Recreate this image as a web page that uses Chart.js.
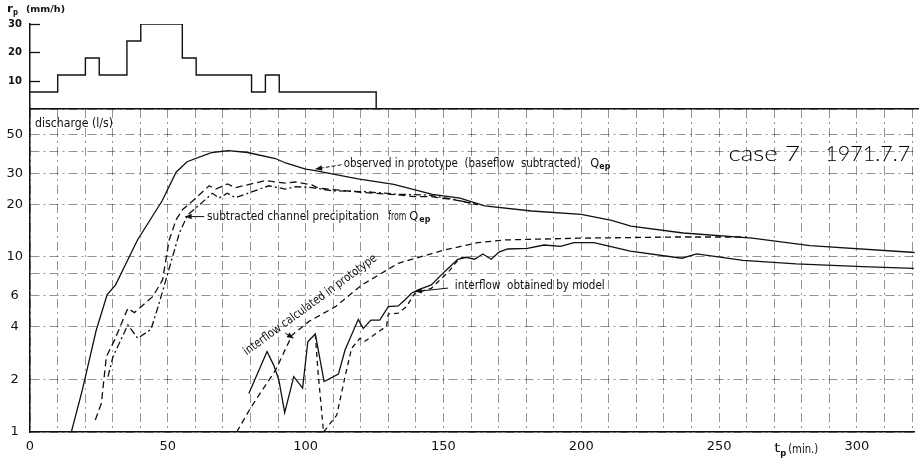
<!DOCTYPE html>
<html>
<head>
<meta charset="utf-8">
<script src="https://cdn.jsdelivr.net/npm/chart.js@4.4.1/dist/chart.umd.min.js"></script>
<style>
    html, body { margin: 0; padding: 0; background: #fff; }
    #wrap { position: relative; width: 919px; height: 461px; }
    #wrap canvas { position: absolute; left: 0; top: 0; }
</style>
</head>
<body>
<div id="wrap">
    <canvas id="flow" width="919" height="461"></canvas>
    <canvas id="rain" width="919" height="461"></canvas>
</div>
<script>
    // ---- axes ----
    var T_MAX = 321;
    var timeGrid = [0, 10, 20, 30, 40, 50, 60, 70, 80, 90, 100, 110, 120, 130, 140, 150, 160,
        170, 180, 190, 200, 210, 220, 230, 240, 250, 260, 270, 280, 290, 300, 310, 320];
    var timeLabels = [0, 50, 100, 150, 200, 250, 300];
    var qGrid = [1, 2, 4, 6, 8, 10, 20, 30, 40, 50, 70];
    var qLabels = [1, 2, 4, 6, 10, 20, 30, 50];
    var rainTicks = [10, 20, 30];

    // ---- rainfall r_p (mm/h), value holds until the next time ----
    var rainTime = [0, 10, 20, 25, 35, 40, 55, 60, 80, 85, 90, 125];
    var rainRate = [6, 12, 18, 12, 24, 30, 18, 12, 6, 12, 6, 0];

    // ---- discharge (l/s) ----
    // observed in prototype, baseflow subtracted (Qep)
    var tObs = [15, 19, 24, 28, 31, 39, 48, 53, 57, 66, 72, 79, 89, 93, 100, 103, 119, 132, 146,
        156, 165, 182, 200, 211, 218, 237, 262, 283, 321];
    var qObs = [1.0, 1.74, 3.8, 6.1, 6.9, 12.5, 21, 30.5, 35, 39.5, 40.5, 39.5, 36.5, 34.3, 31.7,
        31.2, 27.9, 26, 22.8, 21.7, 19.6, 18.3, 17.5, 16.2, 15.0, 13.7, 12.8, 11.6, 10.6];

    // dashed curve above the channel-precipitation curve
    var tDash = [23.7, 25.9, 27.7, 30.7, 35.5, 37.9, 44.5, 48.1, 50.5, 53, 55.3, 60.2, 65, 67.4,
        71.6, 74.6, 85.4, 92.7, 96.3, 102.3, 104.7, 121.5, 133.6, 139.6, 145.6, 154, 162.5];
    var qDash = [1.17, 1.46, 2.69, 3.36, 5.09, 4.81, 5.93, 7.39, 12.5, 16.3, 18.6, 21.7, 25.5, 24.4,
        26.1, 24.9, 27.3, 26.4, 26.8, 25.8, 24.7, 23.3, 22.6, 22.1, 22.1, 21.2, 19.9];

    // channel precipitation subtracted from Qep
    var tChan = [28.3, 30.1, 35.5, 39.1, 43.9, 46.3, 49.3, 51.7, 54.2, 57.2, 61.4, 66.2, 68.6, 71.6,
        74.6, 86.6, 92.7, 96.3, 102.3, 109.5, 121.5, 133.6, 144.4, 154, 162.5];
    var qChan = [2.07, 2.69, 4.09, 3.43, 3.86, 5.09, 7.39, 10.0, 13.7, 17.4, 19.8, 23.1, 21.7, 23.1,
        21.8, 25.5, 24.4, 25.2, 24.9, 23.9, 23.6, 22.8, 22.6, 21.3, 19.9];

    // interflow calculated in prototype
    var tCalc = [75, 80, 89.1, 95.1, 101.1, 110.8, 120.4, 133.6, 150.5, 162.5, 172.2, 198.6, 234.7, 260];
    var qCalc = [1, 1.37, 2.26, 3.58, 4.27, 5.2, 6.92, 9.2, 10.97, 12.07, 12.5, 12.8, 13.0, 13.0];

    // interflow obtained by model
    var tModel = [79.4, 86, 88.4, 90.3, 92.4, 95.7, 98.9, 100.8, 103.5, 106.7, 111.9, 114.3, 119.1,
        120.9, 123.7, 126.9, 130, 133.6, 136, 138.4, 140.8, 145.6, 150.4, 155.2, 158.2, 161.3, 164.3,
        167.3, 170.3, 173.3, 180.5, 186.5, 192.5, 197.4, 204.6, 217.8, 236.5, 241.9, 258.7, 278, 302, 320.7];
    var qModel = [1.66, 2.88, 2.41, 1.98, 1.29, 2.07, 1.78, 3.28, 3.63, 1.94, 2.14, 2.94, 4.4,
        3.91, 4.36, 4.36, 5.2, 5.25, 5.68, 6.2, 6.48, 6.92, 8.24, 9.7, 9.96, 9.7, 10.4,
        9.7, 10.7, 11.1, 11.2, 11.7, 11.5, 12.07, 12.07, 10.8, 9.83, 10.4, 9.55, 9.12, 8.8, 8.6];

    // second (dashed) model interflow
    var tModel2 = [103.5, 104.5, 106.5, 111.3, 114.3, 116.7, 119.7, 121.3, 129.4, 130, 133.6, 136.6,
        139.6, 145.6, 152.2, 155.8, 158.2];
    var qModel2 = [3.63, 2.2, 1.0, 1.25, 2.07, 3.01, 3.43, 3.28, 4.03, 4.72, 4.77, 5.2,
        6.2, 6.62, 8.35, 9.83, 9.96];

    var FONT = '"DejaVu Sans", sans-serif';
    var INK = '#111';
    var GRID = 'rgba(0,0,0,0.42)';

    function pts(ts, qs) {
        return ts.map(function (t, i) { return { x: t, y: qs[i] }; });
    }

    function curve(label, ts, qs, dash) {
        return {
            label: label,
            data: pts(ts, qs),
            borderColor: INK,
            borderWidth: 1.3,
            borderDash: dash,
            pointRadius: 0,
            tension: 0,
            fill: false
        };
    }

    // text squeezed/stretched to a given width
    function note(ctx, str, x, y, w, font, angle) {
        ctx.save();
        ctx.font = font;
        ctx.textAlign = 'left';
        ctx.textBaseline = 'middle';
        ctx.translate(x, y);
        if (angle) ctx.rotate(angle);
        var m = ctx.measureText(str).width;
        ctx.scale(w / m, 1);
        ctx.fillText(str, 0, 0);
        ctx.restore();
    }

    function arrow(ctx, a, b, dash, head) {
        ctx.save();
        ctx.lineWidth = 1;
        ctx.setLineDash(dash || []);
        ctx.beginPath();
        ctx.moveTo(a[0], a[1]);
        ctx.lineTo(b[0], b[1]);
        ctx.stroke();
        ctx.setLineDash([]);
        if (head !== false) {
            var ang = Math.atan2(b[1] - a[1], b[0] - a[0]);
            ctx.beginPath();
            ctx.moveTo(b[0], b[1]);
            ctx.lineTo(b[0] - 7 * Math.cos(ang - 0.4), b[1] - 7 * Math.sin(ang - 0.4));
            ctx.lineTo(b[0] - 7 * Math.cos(ang + 0.4), b[1] - 7 * Math.sin(ang + 0.4));
            ctx.closePath();
            ctx.fill();
        }
        ctx.restore();
    }

    // labels and pointers on the discharge plot
    var flowNotes = {
        id: 'flowNotes',
        afterDraw: function (chart) {
            var ctx = chart.ctx;
            var x = chart.scales.x, y = chart.scales.y;
            function p(t, q) { return [x.getPixelForValue(t), y.getPixelForValue(q)]; }
            var f12 = '12px ' + FONT;
            var sub = 'bold 8px ' + FONT;
            ctx.save();
            ctx.fillStyle = INK;
            ctx.strokeStyle = INK;

            var a = p(1.8, 57.5);
            note(ctx, 'discharge (l/s)', a[0], a[1], 78, f12);

            a = p(113.8, 34);
            note(ctx, 'observed in prototype  (baseflow  subtracted)', a[0], a[1], 237, f12);
            a = p(203.3, 34);
            note(ctx, 'Q', a[0], a[1], 9, f12);
            note(ctx, 'ep', a[0] + 9, a[1] + 3, 11, sub);
            arrow(ctx, p(113, 33.6), p(103.6, 31.8), [4, 2]);

            a = p(64.2, 17.0);
            note(ctx, 'subtracted channel precipitation', a[0], a[1], 172, f12);
            a = p(130, 17.0);
            note(ctx, 'from', a[0], a[1], 18, f12);
            note(ctx, 'Q', a[0] + 21, a[1], 9, f12);
            note(ctx, 'ep', a[0] + 31, a[1] + 3, 11, sub);
            arrow(ctx, p(63.2, 17.0), p(56.3, 17.0));

            a = p(78.0, 2.83);
            note(ctx, 'interflow calculated in prototype', a[0], a[1], 162, f12, -0.632);
            arrow(ctx, p(92.6, 3.67), p(95.6, 3.43));

            a = p(154.1, 6.83);
            note(ctx, 'interflow  obtained by model', a[0], a[1], 150, f12);
            arrow(ctx, p(151.7, 6.64), p(139.8, 6.34));

            ctx.fillStyle = '#000';
            a = p(253.4, 38.8);
            note(ctx, 'case 7', a[0], a[1], 71.6, '300 21px Lato, ' + FONT);
            a = p(288.5, 38.8);
            note(ctx, '1971.7.7', a[0], a[1], 85, '300 21px Lato, ' + FONT);
            ctx.fillStyle = INK;

            // axis title
            var bx = x.getPixelForValue(270), by = chart.chartArea.bottom + 18;
            note(ctx, 't', bx, by - 1, 6, '13px ' + FONT);
            note(ctx, 'p', bx + 6, by + 4, 6, 'bold 9px ' + FONT);
            note(ctx, '(min.)', bx + 14, by, 30, '12px ' + FONT);
            ctx.restore();
        }
    };

    new Chart(document.getElementById('flow'), {
        type: 'line',
        data: {
            datasets: [
                curve('observed Qep', tObs, qObs, []),
                curve('dashed', tDash, qDash, [7, 4]),
                curve('channel precipitation subtracted', tChan, qChan, [7, 3, 2, 3]),
                curve('interflow calculated', tCalc, qCalc, [6, 4]),
                curve('interflow model', tModel, qModel, []),
                curve('interflow model (dashed)', tModel2, qModel2, [5, 4])
            ]
        },
        options: {
            responsive: false,
            animation: false,
            events: [],
            layout: { padding: { top: 109, right: 0, bottom: 0, left: 0 } },
            plugins: { legend: { display: false }, tooltip: { enabled: false } },
            scales: {
                x: {
                    type: 'linear',
                    min: 0,
                    max: T_MAX,
                    afterBuildTicks: function (s) { s.ticks = timeGrid.map(function (v) { return { value: v }; }); },
                    afterFit: function (s) { s.height = 29; },
                    grid: { color: GRID, lineWidth: 1, drawTicks: false },
                    border: { display: true, color: INK, width: 1.5, dash: [9, 4, 2, 4] },
                    ticks: {
                        padding: 7,
                        maxRotation: 0,
                        autoSkip: false,
                        color: INK,
                        font: { family: FONT, size: 13 },
                        callback: function (v) { return timeLabels.indexOf(v) >= 0 ? String(v) : ''; }
                    }
                },
                y: {
                    type: 'logarithmic',
                    min: 1,
                    max: 70,
                    afterBuildTicks: function (s) { s.ticks = qGrid.map(function (v) { return { value: v }; }); },
                    afterFit: function (s) { s.width = 30; },
                    grid: { color: GRID, lineWidth: 1, drawTicks: false },
                    border: { display: true, color: INK, width: 1.5, dash: [9, 4, 2, 4] },
                    ticks: {
                        padding: 7,
                        crossAlign: 'center',
                        color: INK,
                        font: { family: FONT, size: 13 },
                        callback: function (v) { return qLabels.indexOf(v) >= 0 ? String(v) : ''; }
                    }
                }
            }
        },
        plugins: [flowNotes]
    });

    // inward tick marks, tick values and unit label of the rainfall panel
    var rainNotes = {
        id: 'rainNotes',
        afterDraw: function (chart) {
            var ctx = chart.ctx, y = chart.scales.y, left = chart.chartArea.left;
            ctx.save();
            ctx.strokeStyle = INK;
            ctx.fillStyle = INK;
            ctx.lineWidth = 1.3;
            ctx.font = 'bold 10px ' + FONT;
            ctx.textAlign = 'center';
            ctx.textBaseline = 'middle';
            rainTicks.forEach(function (v) {
                var py = Math.round(y.getPixelForValue(v)) + 0.5;
                ctx.beginPath();
                ctx.moveTo(left, py);
                ctx.lineTo(left + 10, py);
                ctx.stroke();
                ctx.fillText(String(v), 15, py);
            });
            note(ctx, 'r', 7, 9, 6, 'bold 11px ' + FONT);
            note(ctx, 'p', 13, 13, 5, 'bold 8px ' + FONT);
            note(ctx, '(mm/h)', 26, 10, 39, 'bold 9px ' + FONT);
            ctx.restore();
        }
    };

    new Chart(document.getElementById('rain'), {
        type: 'line',
        data: {
            datasets: [{
                label: 'r_p',
                data: pts(rainTime, rainRate),
                stepped: 'before',
                borderColor: INK,
                borderWidth: 1.4,
                pointRadius: 0,
                fill: false
            }]
        },
        options: {
            responsive: false,
            animation: false,
            events: [],
            layout: { padding: { top: 24, right: 0, bottom: 352, left: 0 } },
            plugins: { legend: { display: false }, tooltip: { enabled: false } },
            scales: {
                x: {
                    type: 'linear',
                    min: 0,
                    max: T_MAX,
                    afterFit: function (s) { s.height = 0; },
                    ticks: { display: false },
                    grid: { display: false },
                    border: { display: true, color: INK, width: 1.5 }
                },
                y: {
                    min: 0,
                    max: 30,
                    afterBuildTicks: function (s) { s.ticks = rainTicks.map(function (v) { return { value: v }; }); },
                    afterFit: function (s) { s.width = 30; },
                    grid: { display: false },
                    border: { display: true, color: INK, width: 1.5 },
                    ticks: { display: false }
                }
            }
        },
        plugins: [rainNotes]
    });
</script>
</body>
</html>
